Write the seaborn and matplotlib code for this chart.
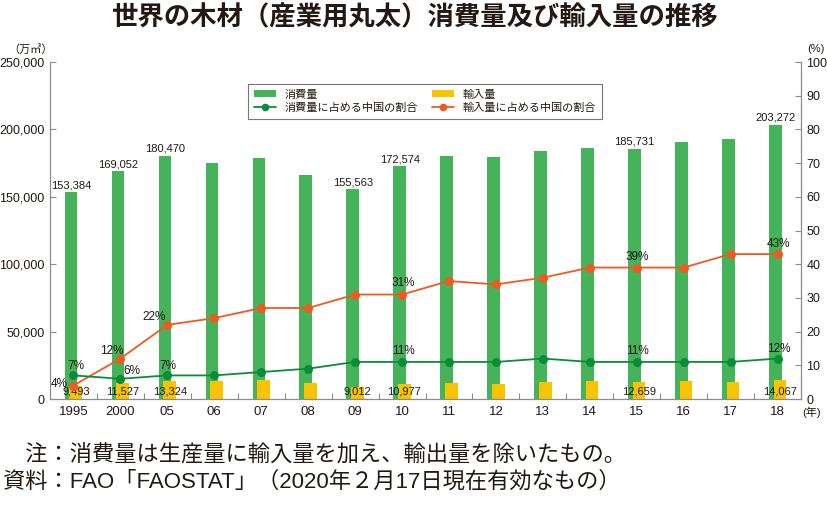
import numpy as np
import pandas as pd
import matplotlib
matplotlib.use('Agg')
import matplotlib.pyplot as plt
import seaborn as sns
from matplotlib.patches import Patch
from matplotlib.lines import Line2D
from matplotlib.ticker import FuncFormatter, MultipleLocator

# ---- data ----
years = ['1995', '2000', '05', '06', '07', '08', '09', '10', '11', '12',
         '13', '14', '15', '16', '17', '18']
consumption = [153384, 169052, 180470, 175300, 178600, 166000, 155563, 172574,
               180000, 179800, 184000, 186500, 185731, 190900, 192900, 203272]
imports = [9493, 11527, 13324, 13300, 14000, 12000, 9012, 10977,
           12000, 11200, 12600, 13100, 12659, 13100, 12600, 14067]
share_cons = [7, 6, 7, 7, 8, 9, 11, 11, 11, 11, 12, 11, 11, 11, 11, 12]
share_imp = [4, 12, 22, 24, 27, 27, 31, 31, 35, 34, 36, 39, 39, 39, 43, 43]
value_label_years = ['1995', '2000', '05', '09', '10', '15', '18']
pct_label_years = ['1995', '2000', '05', '10', '15', '18']

title = '世界の木材（産業用丸太）消費量及び輸入量の推移'
note1 = '\u3000注：消費量は生産量に輸入量を加え、輸出量を除いたもの。'
note2 = '資料：FAO「FAOSTAT」（2020年２月17日現在有効なもの）'

C_GREEN = '#45B35A'
C_YELLOW = '#F8C300'
C_GLINE = '#0B8C3A'
C_ORANGE = '#EE5A22'
C_TEXT = '#231815'
C_AX = '#8c8c8c'

sns.set_theme(style='white')
plt.rcParams['font.family'] = ['Liberation Sans', 'Noto Sans CJK JP', 'DejaVu Sans']

df = pd.DataFrame({'pos': np.arange(len(years)), 'year': years,
                   'consumption': consumption, 'imports': imports,
                   'share_cons': share_cons, 'share_imp': share_imp})
df['pos_c'] = df['pos'] - 0.05
df['pos_i'] = df['pos'] + 0.05

fig = plt.figure(figsize=(8.28, 5.07), dpi=100)
ax = fig.add_axes([50 / 828, 108 / 507, 751 / 828, 337 / 507])

sns.barplot(data=df, x='pos_c', y='consumption', native_scale=True, width=0.27,
            color=C_GREEN, saturation=1, errorbar=None, linewidth=0,
            edgecolor='none', ax=ax)
sns.barplot(data=df, x='pos_i', y='imports', native_scale=True, width=0.27,
            color=C_YELLOW, saturation=1, errorbar=None, linewidth=0,
            edgecolor='none', ax=ax)

ax.set_xlim(-0.5, len(years) - 0.5)
ax.set_ylim(0, 250000)
ax.set_xlabel('')
ax.set_ylabel('')

ax2 = ax.twinx()
sns.lineplot(data=df, x='pos', y='share_imp', ax=ax2, color=C_ORANGE,
             marker='o', markersize=6.5, markeredgewidth=0, linewidth=1.3)
sns.lineplot(data=df, x='pos', y='share_cons', ax=ax2, color=C_GLINE,
             marker='o', markersize=6.5, markeredgewidth=0, linewidth=1.3)
ax2.set_ylim(0, 100)
ax2.set_xlim(-0.5, len(years) - 0.5)
ax2.set_xlabel('')
ax2.set_ylabel('')

# ticks
ax.set_xticks(df['pos'])
ax.set_xticklabels(years)
ax.set_xticks(df['pos'][:-1] + 0.5, minor=True)
ax.tick_params(axis='x', which='major', length=0, pad=5, labelsize=9.5,
               labelcolor=C_TEXT)
ax.tick_params(axis='x', which='minor', direction='in', length=4,
               color=C_AX, width=0.8, bottom=True)
ax.yaxis.set_major_locator(MultipleLocator(50000))
ax.yaxis.set_major_formatter(FuncFormatter(lambda v, p: f'{int(v):,}'))
ax.tick_params(axis='y', direction='in', length=4, color=C_AX, width=0.8,
               labelsize=9, pad=4, labelcolor=C_TEXT, left=True)
ax2.yaxis.set_major_locator(MultipleLocator(10))
ax2.tick_params(axis='y', direction='in', length=4, color=C_AX, width=0.8,
                labelsize=9, pad=4, labelcolor=C_TEXT, right=True)

for a in (ax, ax2):
    a.spines['top'].set_visible(False)
    for s in ('left', 'right', 'bottom'):
        a.spines[s].set_color(C_AX)
        a.spines[s].set_linewidth(0.9)
ax.spines['right'].set_visible(False)
ax2.spines['left'].set_visible(False)
ax2.spines['bottom'].set_visible(False)

# value labels
for _, r in df.iterrows():
    if r['year'] in value_label_years:
        ax.annotate(f"{int(r['consumption']):,}", (r['pos_c'], r['consumption']),
                    xytext=(0, 2), textcoords='offset pixels', ha='center',
                    va='bottom', fontsize=8, color=C_TEXT)
        ax.annotate(f"{int(r['imports']):,}", (r['pos_i'], 0),
                    xytext=(0, 7), textcoords='offset pixels', ha='center',
                    va='center', fontsize=8, color=C_TEXT)

cons_off = {'1995': (2, 9), '2000': (11, 8), '05': (1, 9),
            '10': (1, 11), '15': (1, 11), '18': (1, 10)}
imp_off = {'1995': (-14, 2), '2000': (-9, 8), '05': (-13, 8),
           '10': (1, 12), '15': (1, 11), '18': (1, 10)}
for _, r in df.iterrows():
    y = r['year']
    if y in pct_label_years:
        ax2.annotate(f"{int(r['share_cons'])}%", (r['pos'], r['share_cons']),
                     xytext=cons_off[y], textcoords='offset pixels',
                     ha='center', va='center', fontsize=8.5, color=C_TEXT)
        ax2.annotate(f"{int(r['share_imp'])}%", (r['pos'], r['share_imp']),
                     xytext=imp_off[y], textcoords='offset pixels',
                     ha='center', va='center', fontsize=8.5, color=C_TEXT)

# legend
handles = [
    Patch(facecolor=C_GREEN, edgecolor='none'),
    Line2D([], [], color=C_GLINE, marker='o', markersize=5.5, markeredgewidth=0, linewidth=1.3),
    Patch(facecolor=C_YELLOW, edgecolor='none'),
    Line2D([], [], color=C_ORANGE, marker='o', markersize=5.5, markeredgewidth=0, linewidth=1.3),
]
labels = ['消費量', '消費量に占める中国の割合', '輸入量', '輸入量に占める中国の割合']
leg = ax2.legend(handles, labels, ncol=2, loc='upper left',
                 bbox_to_anchor=(248 / 828, 1 - 84 / 507),
                 bbox_transform=fig.transFigure, fontsize=8, frameon=True,
                 fancybox=False, edgecolor='#777777', framealpha=1,
                 handlelength=2.0, handleheight=0.6, handletextpad=0.8,
                 columnspacing=1.2, labelspacing=0.3, borderpad=0.5,
                 borderaxespad=0)
leg.get_frame().set_linewidth(0.8)
for t in leg.get_texts():
    t.set_color(C_TEXT)

# unit labels
fig.text(31 / 828, 1 - 49 / 507, '（万㎥）', ha='center', va='center',
         fontsize=8, color=C_TEXT)
fig.text(816 / 828, 1 - 49 / 507, '(%)', ha='center', va='center',
         fontsize=8, color=C_TEXT)
fig.text(812 / 828, 1 - 412 / 507, '(年)', ha='center', va='center',
         fontsize=8, color=C_TEXT)

fig.text(414 / 828, 1 - 18 / 507, title, ha='center', va='center',
         fontsize=19, fontweight='bold', color=C_TEXT)
fig.text(3 / 828, 1 - 456 / 507, note1, ha='left', va='center',
         fontsize=16, color=C_TEXT)
fig.text(3 / 828, 1 - 482 / 507, note2, ha='left', va='center',
         fontsize=16, color=C_TEXT)

fig.savefig('out.png', dpi=100)
